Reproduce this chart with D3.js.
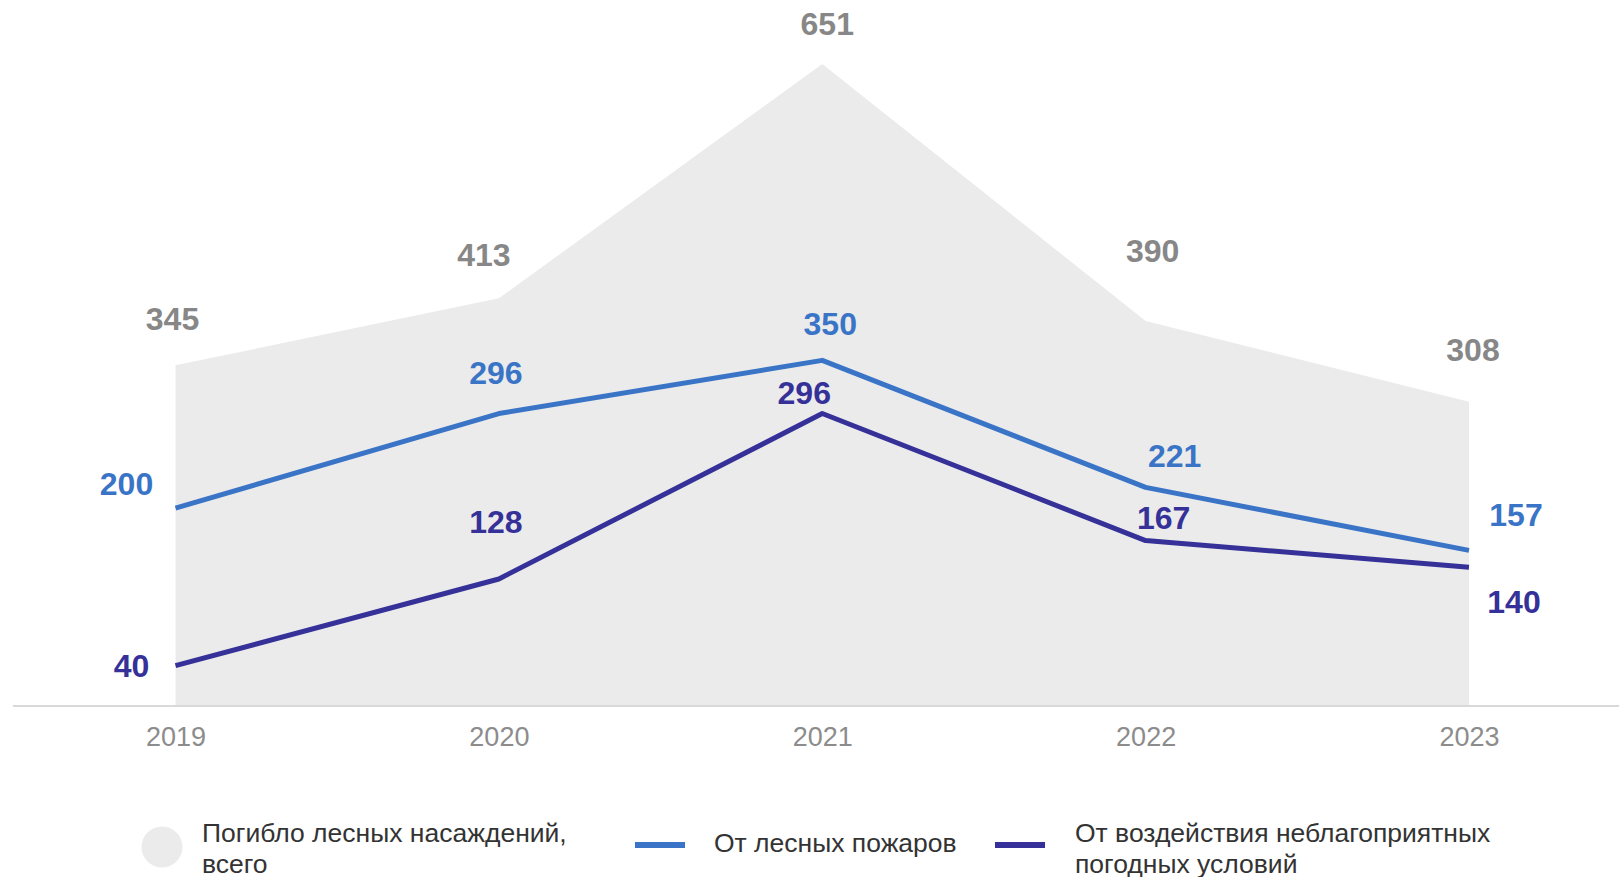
<!DOCTYPE html>
<html>
<head>
<meta charset="utf-8">
<script src="https://cdn.jsdelivr.net/npm/d3@7"></script>
<style>
  html, body { margin: 0; padding: 0; background: #fff; }
  svg { display: block; font-family: "Liberation Sans", Arial, sans-serif; }
</style>
</head>
<body>
<svg id="chart"></svg>
<script>
const years = ["2019", "2020", "2021", "2022", "2023"];
const totalValues = [345, 413, 651, 390, 308];
const fireValues = [200, 296, 350, 221, 157];
const weatherValues = [40, 128, 296, 167, 140];

// label nudges (px) relative to each point
const totalLabelOffset = [[-3, -46], [-15, -43], [5, -40], [7, -70], [4, -52]];
const fireLabelOffset = [[-49, -24], [-3, -41], [8, -36], [29, -31], [47, -35]];
const weatherLabelOffset = [[-44, 0], [-3, -57], [-18, -21], [18, -23], [45, 35]];

const width = 1619, height = 877;
const colors = { total: "#ebebeb", fire: "#3a74c6", weather: "#353199", totalText: "#878787" };

const svg = d3.select("#chart").attr("width", width).attr("height", height);

const x = d3.scalePoint().domain(years).range([175.5, 1469]);
const y = d3.scaleLinear().domain([0, 651]).range([705, 64]);

// total area
const area = d3.area()
  .x((d, i) => x(years[i]))
  .y0(y(0))
  .y1(d => y(d));

svg.append("path")
  .datum(totalValues)
  .attr("d", area)
  .attr("fill", colors.total);

// baseline axis
const xAxis = svg.append("g")
  .attr("transform", `translate(0,${y(0)})`)
  .call(d3.axisBottom(x).tickSize(0).tickPadding(22));
xAxis.select(".domain").remove();
xAxis.append("line")
  .attr("x1", 13).attr("x2", width)
  .attr("y1", 1).attr("y2", 1)
  .attr("stroke", "#d9d9d9")
  .attr("stroke-width", 2);
xAxis.selectAll(".tick text")
  .attr("fill", "#8c8c8c")
  .style("font-size", "27px")
  .style("font-family", "'Liberation Sans', Arial, sans-serif");

// lines
const line = d3.line()
  .x((d, i) => x(years[i]))
  .y(d => y(d));

[[fireValues, colors.fire], [weatherValues, colors.weather]].forEach(([vals, c]) => {
  svg.append("path")
    .datum(vals)
    .attr("d", line)
    .attr("fill", "none")
    .attr("stroke", c)
    .attr("stroke-width", 5)
    .attr("stroke-linejoin", "round");
});

// value labels
function addLabels(vals, offsets, color) {
  svg.append("g")
    .selectAll("text")
    .data(vals)
    .join("text")
    .attr("x", (d, i) => x(years[i]) + offsets[i][0])
    .attr("y", (d, i) => y(d) + offsets[i][1])
    .attr("text-anchor", "middle")
    .attr("dominant-baseline", "central")
    .attr("fill", color)
    .style("font-size", "32px")
    .style("font-weight", "bold")
    .text(d => d);
}
addLabels(totalValues, totalLabelOffset, colors.totalText);
addLabels(fireValues, fireLabelOffset, colors.fire);
addLabels(weatherValues, weatherLabelOffset, colors.weather);

// legend
const legend = svg.append("g").style("font-size", "26.5px").attr("fill", "#333");

legend.append("circle")
  .attr("cx", 162).attr("cy", 847).attr("r", 20.5)
  .attr("fill", colors.total);
const t1 = legend.append("text").attr("x", 202).attr("y", 842);
t1.append("tspan").attr("x", 202).attr("dy", 0).text("Погибло лесных насаждений,");
t1.append("tspan").attr("x", 202).attr("dy", 31).text("всего");

legend.append("line")
  .attr("x1", 635).attr("x2", 685).attr("y1", 845).attr("y2", 845)
  .attr("stroke", colors.fire).attr("stroke-width", 6);
legend.append("text").attr("x", 714).attr("y", 852).text("От лесных пожаров");

legend.append("line")
  .attr("x1", 995).attr("x2", 1045).attr("y1", 845).attr("y2", 845)
  .attr("stroke", colors.weather).attr("stroke-width", 6);
const t3 = legend.append("text").attr("x", 1075).attr("y", 842);
t3.append("tspan").attr("x", 1075).attr("dy", 0).text("От воздействия неблагоприятных");
t3.append("tspan").attr("x", 1075).attr("dy", 31).text("погодных условий");
</script>
</body>
</html>
